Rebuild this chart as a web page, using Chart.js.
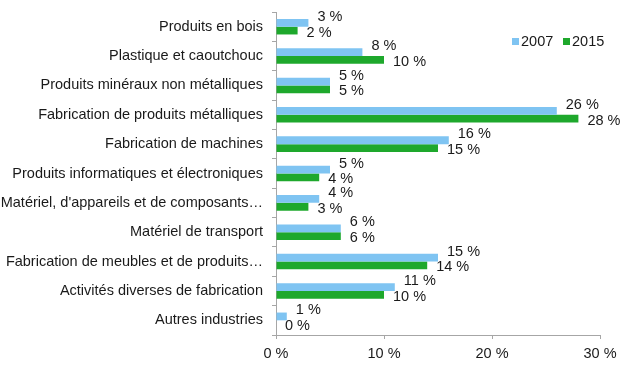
<!DOCTYPE html>
<html>
<head>
<meta charset="utf-8">
<script src="https://cdn.jsdelivr.net/npm/chart.js@4"></script>
<style>
  html, body { margin: 0; padding: 0; background: #fff; }
  #wrap { width: 636px; height: 368px; }
</style>
</head>
<body>
<div id="wrap"><canvas id="graphique"></canvas></div>
<script>
const categories = [
    'Produits en bois',
    'Plastique et caoutchouc',
    'Produits minéraux non métalliques',
    'Fabrication de produits métalliques',
    'Fabrication de machines',
    'Produits informatiques et électroniques',
    'Matériel, d\'appareils et de composants…',
    'Matériel de transport',
    'Fabrication de meubles et de produits…',
    'Activités diverses de fabrication',
    'Autres industries'
];
const annees = ['2007', '2015'];
const valeurs2007 = [3, 8, 5, 26, 16, 5, 4, 6, 15, 11, 1];
const valeurs2015 = [2, 10, 5, 28, 15, 4, 3, 6, 14, 10, 0];
const ticksX = [0, 10, 20, 30];

const police = '"Liberation Sans", Arial, sans-serif';
const taille = 14.5;
const bleu = '#7fc4f2';
const vert = '#1ea82c';
const texte = '#1a1a1a';

// etiquettes de valeurs a droite des barres
const etiquettes = {
    id: 'etiquettes',
    afterDatasetsDraw(chart) {
        const ctx = chart.ctx;
        ctx.save();
        ctx.font = taille + 'px ' + police;
        ctx.fillStyle = texte;
        ctx.textBaseline = 'middle';
        ctx.textAlign = 'left';
        chart.data.datasets.forEach((ds, i) => {
            const meta = chart.getDatasetMeta(i);
            const decalage = i === 0 ? -6 : 2;
            meta.data.forEach((barre, j) => {
                ctx.fillText(ds.data[j] + ' %', barre.x + 9, barre.y + decalage);
            });
        });
        ctx.restore();
    }
};

// legende dessinee a la main
const legende = {
    id: 'legende',
    afterDraw(chart) {
        const ctx = chart.ctx;
        ctx.save();
        ctx.font = taille + 'px ' + police;
        ctx.textBaseline = 'middle';
        let x = 512;
        const y = 42;
        chart.data.datasets.forEach(ds => {
            ctx.fillStyle = ds.backgroundColor;
            ctx.fillRect(x, y - 4, 7, 7);
            ctx.fillStyle = texte;
            ctx.fillText(ds.label, x + 9, y);
            x += 51;
        });
        ctx.restore();
    }
};

new Chart(document.querySelector('#graphique'), {
    type: 'bar',
    data: {
        labels: categories,
        datasets: [
            { label: annees[0], data: valeurs2007, backgroundColor: bleu },
            { label: annees[1], data: valeurs2015, backgroundColor: vert }
        ]
    },
    options: {
        indexAxis: 'y',
        responsive: true,
        maintainAspectRatio: false,
        animation: false,
        categoryPercentage: 0.53,
        barPercentage: 1.0,
        layout: { padding: { top: 12, right: 36, bottom: 0, left: 0 } },
        plugins: {
            legend: { display: false },
            tooltip: { enabled: false }
        },
        scales: {
            x: {
                min: 0,
                max: 30,
                afterBuildTicks: (scale) => {
                    scale.ticks = ticksX.map(v => ({ value: v }));
                },
                afterFit: (scale) => {
                    scale.height = 33;
                    scale.paddingLeft = 0;
                    scale.paddingRight = 0;
                },
                grid: { drawOnChartArea: false, tickLength: 4, color: '#a6a6a6' },
                border: { color: '#a6a6a6' },
                ticks: {
                    padding: 6,
                    color: texte,
                    font: { family: police, size: taille },
                    callback: (v) => v + ' %'
                }
            },
            y: {
                afterFit: (scale) => {
                    scale.width = 276;
                    scale.paddingTop = 0;
                    scale.paddingBottom = 0;
                },
                grid: { drawOnChartArea: false, tickLength: 4, color: '#a6a6a6' },
                border: { color: '#a6a6a6' },
                ticks: {
                    padding: 9,
                    color: texte,
                    autoSkip: false,
                    font: { family: police, size: taille }
                }
            }
        }
    },
    plugins: [etiquettes, legende]
});
</script>
</body>
</html>
